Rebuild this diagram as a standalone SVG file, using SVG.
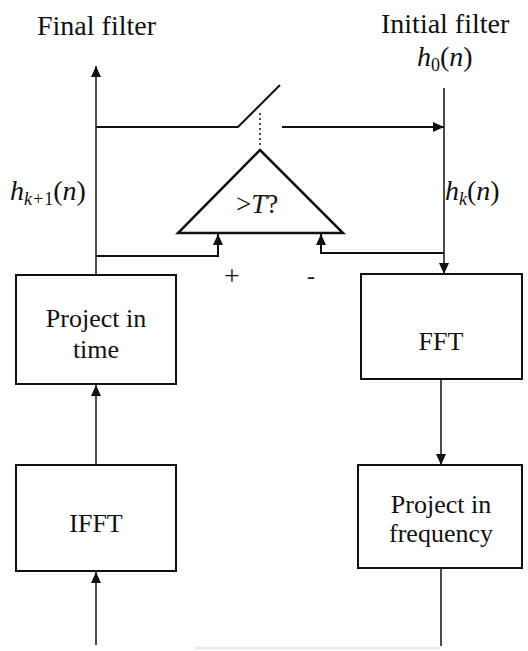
<svg xmlns="http://www.w3.org/2000/svg" width="528" height="651" viewBox="0 0 528 651">
<style>
text{font-family:"Liberation Serif","Times New Roman",serif;fill:#111}
.lbl{font-size:28px}
.box{fill:#fff;stroke:#111;stroke-width:2}
.bt{font-size:26px;text-anchor:middle}
.ln{fill:none;stroke:#111;stroke-width:2}
.thin{fill:none;stroke:#111;stroke-width:1.5}
.it{font-style:italic}
.sub{font-size:18px}
</style>
<defs>
<marker id="ah" markerUnits="userSpaceOnUse" markerWidth="12" markerHeight="10" refX="11" refY="5" orient="auto">
<path d="M0,0 L11,5 L0,10 z" fill="#111"/>
</marker>
</defs>

<g id="labels">
<text class="lbl" x="37" y="35">Final filter</text>
<text class="lbl" x="381" y="33">Initial filter</text>
<text class="lbl" x="417" y="66"><tspan class="it">h</tspan><tspan class="sub" dy="5">0</tspan><tspan dy="-5">(</tspan><tspan class="it">n</tspan>)</text>
<text class="lbl" x="10" y="200"><tspan class="it">h</tspan><tspan class="sub it" dy="5">k+</tspan><tspan class="sub">1</tspan><tspan dy="-5">(</tspan><tspan class="it">n</tspan>)</text>
<text class="lbl" x="445" y="200"><tspan class="it">h</tspan><tspan class="sub it" dy="5">k</tspan><tspan dy="-5">(</tspan><tspan class="it">n</tspan>)</text>
<text x="232" y="285" font-size="28" text-anchor="middle">+</text>
<text x="311" y="284" font-size="24" text-anchor="middle">-</text>
</g>

<g id="connectors">
<path class="thin" d="M96,275 V66" marker-end="url(#ah)"/>
<path class="ln" d="M96,127 H238 L280,85"/>
<path d="M260,113 V148" stroke="#111" stroke-width="1.5" stroke-dasharray="2,3" fill="none"/>
<path class="ln" d="M282,127 H444" marker-end="url(#ah)"/>
<path class="thin" d="M444,88 V274" marker-end="url(#ah)"/>
<path class="ln" d="M96,256 H218 V234" marker-end="url(#ah)"/>
<path class="ln" d="M444,253 H321 V234" marker-end="url(#ah)"/>
<path class="thin" d="M441,379 V465" marker-end="url(#ah)"/>
<path class="thin" d="M96,465 V385" marker-end="url(#ah)"/>
<path class="thin" d="M96,645 V572" marker-end="url(#ah)"/>
<path class="thin" d="M441,568 V646"/>
<path d="M195,648 H440" stroke="#e2e2e2" stroke-width="1.5" fill="none"/>
</g>

<g id="comparator">
<path d="M260,150 L343,233 L178,233 z" fill="#fff" stroke="#111" stroke-width="2.5" stroke-linejoin="miter"/>
<text x="236" y="213" font-size="27">&gt;<tspan class="it">T</tspan>?</text>
</g>

<g id="project-time">
<rect class="box" x="16" y="275" width="160" height="109"/>
<text class="bt" x="96" y="327">Project in</text>
<text class="bt" x="96" y="358">time</text>
</g>

<g id="ifft">
<rect class="box" x="16" y="465" width="160" height="106"/>
<text class="bt" x="96" y="532" font-size="28">IFFT</text>
</g>

<g id="fft">
<rect class="box" x="361" y="274" width="161" height="105"/>
<text class="bt" x="441" y="350" font-size="27">FFT</text>
</g>

<g id="project-frequency">
<rect class="box" x="358" y="465" width="164" height="103"/>
<text class="bt" x="441" y="513">Project in</text>
<text class="bt" x="441" y="542">frequency</text>
</g>
</svg>
